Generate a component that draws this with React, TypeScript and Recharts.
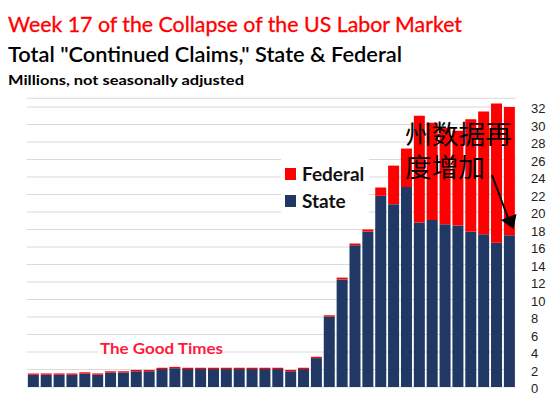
import React from 'react';
import { BarChart, Bar, XAxis, YAxis, CartesianGrid, Legend } from 'recharts';

const weeks = [
  'W1', 'W2', 'W3', 'W4', 'W5', 'W6', 'W7', 'W8', 'W9', 'W10',
  'W11', 'W12', 'W13', 'W14', 'W15', 'W16', 'W17', 'W18', 'W19', 'W20',
  'W21', 'W22', 'W23', 'W24', 'W25', 'W26', 'W27', 'W28', 'W29', 'W30',
  'W31', 'W32', 'W33', 'W34', 'W35', 'W36', 'W37', 'W38'
];

// millions
const stateClaims = [
  1.4, 1.4, 1.4, 1.4, 1.52, 1.4, 1.66, 1.66, 1.8, 1.8,
  2.05, 2.15, 2.05, 2.05, 2.05, 2.05, 2.05, 2.05, 2.05, 2.05,
  1.8, 2.05, 3.3, 8.05, 12.3, 16.2, 17.75, 21.85, 20.9, 22.85,
  18.8, 19.1, 18.6, 18.45, 17.75, 17.45, 16.5, 17.35
];

const federalClaims = [
  0.15, 0.15, 0.15, 0.15, 0.16, 0.15, 0.14, 0.14, 0.15, 0.15,
  0.15, 0.15, 0.15, 0.15, 0.15, 0.15, 0.15, 0.15, 0.15, 0.15,
  0.15, 0.15, 0.15, 0.15, 0.2, 0.2, 0.25, 0.95, 4.4, 4.4,
  12.2, 11.1, 11.0, 10.85, 12.85, 14.05, 15.9, 14.65
];

const yTicks = [0, 2, 4, 6, 8, 10, 12, 14, 16, 18, 20, 22, 24, 26, 28, 30, 32];

const NAVY = '#1f3864';
const RED = '#ff0000';

const data = weeks.map((week, i) => ({
  week,
  state: stateClaims[i],
  federal: federalClaims[i]
}));

const renderTick = (props: any) => {
  const { y, payload } = props;
  return (
    <text x={531} y={y + 1.5} dy="0.35em" textAnchor="start" fontSize={13} fill="#222" fontFamily="'Liberation Sans', Arial, sans-serif">
      {payload.value}
    </text>
  );
};

const renderLegend = () => (
  <div style={{ background: '#fff', padding: '4px 0 2px 4px', fontFamily: 'Lato, sans-serif', fontWeight: 700, fontSize: 19, lineHeight: '27px', color: '#111' }}>
    {[{ name: 'Federal', color: RED }, { name: 'State', color: NAVY }].map((item) => (
      <div key={item.name} style={{ display: 'flex', alignItems: 'center' }}>
        <span style={{ display: 'inline-block', width: 11, height: 12, background: item.color, marginRight: 6 }} />
        <span>{item.name}</span>
      </div>
    ))}
  </div>
);

// CJK glyphs come from Noto, line metrics from Liberation Serif (tighter box)
const cjkFont = "'Liberation Serif', 'Noto Sans CJK SC', serif";

export default function App() {
  return (
    <div style={{ position: 'absolute', left: 0, top: 0, width: 550, height: 395, background: '#fff' }}>
      <BarChart
        width={550}
        height={395}
        data={data}
        margin={{ top: 98.25, right: 0, bottom: 8, left: 26.7 }}
        barCategoryGap="9%"
      >
        <CartesianGrid vertical={false} stroke="#d9d9d9" strokeWidth={1.2} />
        <XAxis dataKey="week" hide />
        <YAxis
          orientation="right"
          width={34.4}
          domain={[0, 33]}
          ticks={yTicks}
          interval={0}
          axisLine={false}
          tickLine={false}
          tick={renderTick}
        />
        <Legend
          layout="vertical"
          verticalAlign="middle"
          align="center"
          wrapperStyle={{ left: 281, top: 156, width: 88 }}
          content={renderLegend}
        />
        <Bar dataKey="state" name="State" stackId="a" fill={NAVY} isAnimationActive={false} />
        <Bar dataKey="federal" name="Federal" stackId="a" fill={RED} isAnimationActive={false} />
      </BarChart>

      <svg width={550} height={395} style={{ position: 'absolute', left: 0, top: 0, pointerEvents: 'none' }}>
        <text x={8} y={32} fontFamily="Lato, sans-serif" fontSize={20.5} fill={RED} stroke={RED} strokeWidth={0.3} textLength={454} lengthAdjust="spacingAndGlyphs">
          Week 17 of the Collapse of the US Labor Market
        </text>
        <text x={8} y={62} fontFamily="Lato, sans-serif" fontWeight={600} fontSize={20.5} fill="#000" textLength={394} lengthAdjust="spacingAndGlyphs">
          Total "Continued Claims," State &amp; Federal
        </text>
        <text x={8} y={84.5} fontFamily="Lato, sans-serif" fontWeight={700} fontSize={13} fill="#000" textLength={236} lengthAdjust="spacingAndGlyphs">
          Millions, not seasonally adjusted
        </text>

        <rect x={98} y={340} width={126} height={16} fill="#fff" />
        <text x={100} y={354} fontFamily="Lato, sans-serif" fontWeight={700} fontSize={15.5} fill="#ff1a3c" textLength={123} lengthAdjust="spacingAndGlyphs">
          The Good Times
        </text>

        <text x={405} y={144} fontFamily={cjkFont} fontSize={26} fill="#000" textLength={107} lengthAdjust="spacingAndGlyphs">
          州数据再
        </text>
        <text x={405} y={176.5} fontFamily={cjkFont} fontSize={26} fill="#000" textLength={80} lengthAdjust="spacingAndGlyphs">
          度增加
        </text>
        <line x1={492} y1={175} x2={508} y2={218} stroke="#000" strokeWidth={2} />
        <polygon points="513.5,229 501,220 516.5,214" fill="#000" />
      </svg>
    </div>
  );
}
